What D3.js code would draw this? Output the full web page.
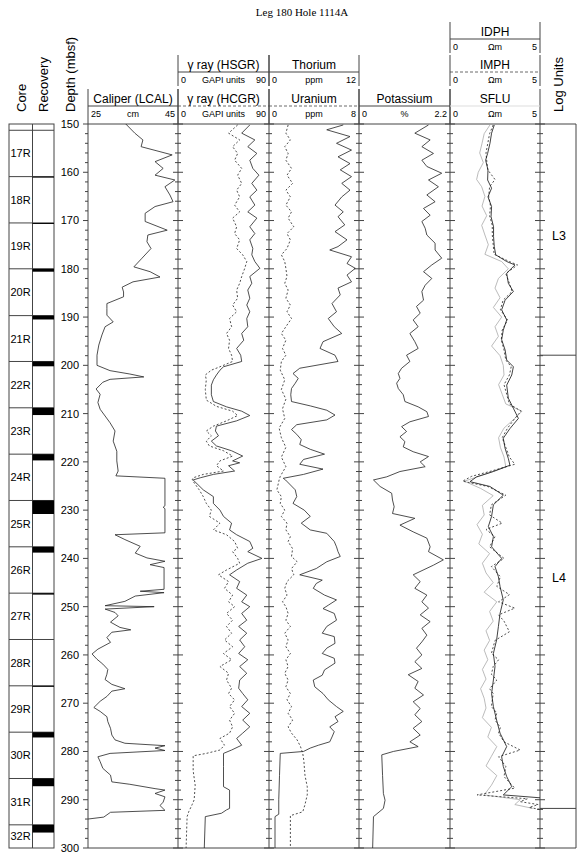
<!DOCTYPE html>
<html>
<head>
<meta charset="utf-8">
<script src="https://cdn.jsdelivr.net/npm/d3@7"></script>
<style>
  body { margin: 0; background: #fff; }
  text { font-family: "Liberation Sans", Arial, Helvetica, sans-serif; fill: #000; }
</style>
</head>
<body>
<script>

var svgWidth = 581;
var svgHeight = 857;

// ---------------- data ----------------
var title = "Leg 180 Hole 1114A";

var coreNames = ["16R", "17R", "18R", "19R", "20R", "21R", "22R", "23R", "24R",
                 "25R", "26R", "27R", "28R", "29R", "30R", "31R", "32R"];
var coreTops = [141.7, 151.3, 160.9, 170.5, 180.0, 189.7, 199.2, 208.8, 218.4,
                228.0, 237.6, 247.2, 256.8, 266.4, 276.0, 285.6, 295.2];
var recovered = [0, 0, 0.2, 0.2, 0.6, 0.8, 1.0, 1.5, 1.3,
                 2.8, 1.2, 0.3, 0, 0.15, 1.1, 1.6, 1.6];

var unitNames = ["L3", "L4"];
var unitTops = [150, 197.9];
var unitBases = [197.9, 291.8];

var depthTicks = [150, 160, 170, 180, 190, 200, 210, 220, 230, 240, 250,
                  260, 270, 280, 290, 300];

// [depth m, caliper cm]
var caliper = [[150,33.4],[151.9,35.4],[153.3,37.2],[154.7,36.8],[156.4,43.7],[157.8,39.9],
  [159.2,41.7],[160.6,39.9],[161.6,44.3],[163,42.1],[164.7,43.2],[166.1,43.9],[167.1,39.9],
  [168.5,37.7],[170.2,37.7],[172,42.6],[173,38.3],[174.4,38.1],[175.8,39],[177.8,37],
  [179.6,35.2],[180.6,38.8],[181.7,41],[182.7,35],[183.8,32.6],[184.8,32.9],[185.8,32.9],
  [187.2,29.2],[188.2,29.2],[189.6,29.2],[191,30.6],[192,28.8],[193.7,28.1],[195.8,27.4],
  [197.9,27],[200,27],[201.1,29.9],[201.8,34.3],[202.4,37.4],[202.9,29.9],[203.5,28.3],
  [204.9,26.8],[206,27.7],[207.7,27.2],[209.1,27.7],[210.5,28.8],[211.9,29.9],[213.6,31],
  [215.7,30.6],[217.8,31.4],[219.8,31.4],[221.9,31.7],[222.9,31.2],[223.4,42.1],[229.1,42.1],
  [229.4,41.7],[229.7,42.1],[234.7,42.1],[235.1,31],[236.1,33.2],[237.5,36.6],[238.9,35.5],
  [239.9,38.1],[240.6,42.1],[241.3,38.8],[241.9,41.9],[246.4,41.9],[246.8,36.6],[247.1,41.9],
  [247.8,35.5],[248.9,33.2],[249.8,28.8],[250,39.7],[250.5,28.8],[251.2,31],[251.9,31.7],
  [253.2,30],[254.3,32.1],[254.8,34.5],[255.3,30.3],[256.4,29.2],[257.4,30],[258.8,27.2],
  [259.8,25.9],[260.9,27],[261.9,28.3],[263,29.4],[264,29.2],[265.1,28.8],[266.1,30.3],
  [267,33.2],[267.5,30.3],[268.6,29.2],[269.6,27.7],[270.9,26.3],[271.7,27.7],[272.8,29.2],
  [273.8,29.4],[275.2,30],[276.6,30.3],[277.6,31],[278.3,33.2],[278.8,42.1],[279.3,39.9],
  [279.8,42.1],[280.4,29.9],[281.1,27.2],[282.1,27.7],[283.5,28.3],[284.9,30],[286.3,30.3],
  [286.8,34.3],[287.7,39.9],[288,42.1],[288.7,39.9],[289.4,42.1],[290.5,41.7],[291.2,41],
  [292.2,42.1],[292.6,30],[293.6,28.5],[294,25]];

// [depth, GAPI]
var hsgr = [[150.2,71],[151.9,63],[153.3,76],[154.7,69],[156.1,78],[157.5,71],[159.2,74],
  [160.6,80],[162.3,73],[163.7,78],[165.1,71],[166.8,76],[168.2,69],[169.5,78],[171.3,71],
  [172.7,76],[174,71],[175.8,74],[177.1,73],[178.5,76],[179.9,81],[181.6,71],[183,73],
  [184.4,69],[186.1,71],[187.5,68],[188.9,71],[190.3,68],[192,69],[193.4,63],[194.8,65],
  [196.5,58],[197.9,62],[199.2,63],[200.3,45],[201,41.5],[202,38],[203,35],[204.1,33],
  [206.1,33],[207.5,35],[208.6,48],[209.5,63],[210.4,71],[211.5,58],[212.6,38],[213.6,37],
  [214.6,40],[215.7,33],[216.7,38],[217.7,53],[218.8,64],[219.8,54],[220.2,61],[220.8,50],
  [221.9,56],[222.6,35],[223.3,22],[223.75,15],[225.8,25],[227.2,35],[228.6,35],[230,41.5],
  [231.3,45],[232.7,53],[234.1,51],[235.1,58],[236.5,71],[237.9,74],[238.6,69],[240,83],
  [241,69],[242.4,58],[243.4,51],[244.8,61],[246.2,58],[247.6,68],[249,63],[250,71],
  [251.4,63],[252.8,68],[254.1,60],[255.5,68],[256.9,61],[258.3,66],[259.7,60],[261,69],
  [262.4,61],[263.8,68],[265.2,61],[266.9,60],[268,64],[269.3,69],[270.7,63],[272.1,71],
  [273.5,64],[274.9,71],[276.2,64],[277.3,58],[278.7,63],[279.7,53],[280.4,45],[283.1,45],
  [287.3,45],[288,51],[291.8,51],[292.1,48],[292.8,43],[293.5,27],[300,26]];

var hcgr = [[150.2,59],[151.9,50],[153.3,61],[154.7,54],[156.1,59],[157.5,56],[159.2,63],
  [160.6,59],[162.3,63],[163.7,58],[165.1,61],[166.8,56],[168.2,61],[169.5,54],[171.3,58],
  [172.7,56],[174,61],[175.8,58],[177.1,64],[178.5,68],[179.9,66],[181.6,63],[183,61],
  [184.4,58],[186.1,59],[187.5,54],[188.9,58],[190.3,51],[192,53],[193.4,48],[194.8,51],
  [196.5,50],[197.9,53],[199.2,54],[200.3,41.5],[201,33],[202,27],[203,28],[205,27],
  [207.2,28],[208.5,38],[209.5,54],[210.4,59],[211.5,48],[212.6,35],[213.6,28],[214.6,33],
  [215.7,28],[216.7,31],[217.7,45],[218.8,54],[219.8,41.5],[220.8,38],[221.9,45],[222.6,25],
  [223.3,15],[223.75,14],[225.8,21],[227.2,25],[228.6,28],[230,33],[231.3,31],[232.7,41.5],
  [234.1,35],[235.1,48],[236.5,56],[237.9,59],[238.6,54],[240,59],[241,61],[242.4,48],
  [243.4,40],[244.8,50],[246.2,46],[247.6,54],[249,50],[250,56],[251.4,48],[252.8,54],
  [254.1,48],[255.5,53],[256.9,46],[258.3,54],[259.7,45],[261,53],[262.4,41.5],[263.8,50],
  [265.2,48],[266.9,53],[268,50],[269.3,56],[270.7,51],[272.1,56],[273.5,51],[274.9,54],
  [276.2,51],[277.3,41.5],[278.7,46],[279.7,41.5],[280.4,28],[280.9,15],[284,15],[287,17],
  [290,16],[291,14],[292.5,10.6],[293.5,9],[300,8]];

// [depth, ppm]
var thorium = [[150.2,9.9],[151.2,7.7],[152.6,10.8],[154,9.0],[155.4,11],[156.8,9.2],[158.2,10.8],
  [159.5,9.5],[160.9,11],[162.3,9.7],[163.7,10.8],[165.1,9.7],[166.8,8.8],[168.2,9.9],[169.2,9.2],
  [170.9,10.1],[172.3,8.8],[174,10.4],[175.4,9.2],[176.1,8.1],[177.5,11],[178.9,10.4],[179.9,11.5],
  [181.3,10.4],[182.7,11],[184,9.2],[185.4,9.5],[187.2,8.4],[188.9,9.0],[190.3,7.9],[192,8.7],
  [193.4,9.7],[195.1,7.2],[196.5,6.8],[197.9,8.8],[199.2,9.2],[200.6,4.1],[201.7,3.2],[202.7,3.9],
  [203.7,3.5],[204.8,3.0],[206.1,2.9],[207.5,3.0],[208.4,5.5],[209.3,7.7],[210.3,8.8],[211.3,7.7],
  [212.3,3.7],[213.3,3.0],[214.3,3.7],[215.4,4.3],[216.4,4.1],[217.4,5.5],[218.4,7.4],[219.5,4.6],
  [220.5,4.1],[221.5,7.2],[222.6,4.6],[223.4,1.9],[223.75,2.2],[225.8,3.5],[227.2,3.7],[228.6,3.2],
  [230,4.7],[231.3,5.5],[232.7,4.3],[234.1,5.5],[234.8,7.7],[236.5,8.7],[237.6,9.0],[238.6,9.2],
  [239.6,9.5],[240.7,7.7],[242.1,6.3],[243.4,4.1],[244.5,7.1],[245.2,6.3],[246.2,5.9],[247.6,7.4],
  [248.6,9.0],[249.7,7.9],[250.4,7.2],[251.4,8.7],[252.8,9.0],[254.1,7.7],[255.5,7.1],[256.2,8.7],
  [257.6,8.8],[258.6,7.7],[259.7,7.1],[260.7,8.7],[261.7,8.8],[263.1,7.4],[264.2,7.1],[265.2,5.9],
  [266.6,6.1],[268,7.2],[269.3,7.9],[270.7,9.0],[271.7,9.9],[272.8,8.8],[273.8,9.2],[274.9,8.1],
  [275.9,8.7],[277,8.4],[278,8.1],[278.7,6.6],[279.3,5.5],[280,4.6],[280.4,1.5],[285,1.4],
  [290,1.3],[293,1.3],[293.5,0.8],[300,0.8]];

var uranium = [[150.2,1.7],[151.9,1.5],[153.3,1.9],[154.7,1.4],[156.1,1.7],[157.5,1.5],[159.2,2.0],
  [160.6,1.6],[162.3,2.1],[163.7,1.5],[165.1,1.9],[166.8,1.5],[168.2,2.0],[169.5,1.7],[171.3,2.2],
  [172.7,1.6],[174,1.9],[175.8,1.6],[177.1,1.1],[178.5,1.4],[179.9,1.5],[181.6,1.6],[183,1.4],
  [184.4,1.7],[186.1,1.5],[187.5,1.9],[188.9,1.6],[190.3,2.0],[192,1.5],[193.4,1.1],[194.8,1.5],
  [196.5,1.2],[197.9,1.5],[199.2,1.1],[201,1.0],[203,1.4],[205,1.1],[207,1.5],[209,1.2],
  [211,1.4],[213,0.9],[215,1.1],[217,1.5],[219,1.1],[221,1.5],[223,1.0],[223.75,0.9],
  [225.8,0.7],[227.2,1.1],[228.6,1.0],[230,1.4],[231.3,1.1],[232.7,1.6],[234.1,1.5],[235.5,1.9],
  [236.5,1.7],[238,2.1],[239.6,2.0],[240.7,2.5],[242.1,2.0],[243.4,2.2],[244.8,1.6],[246.2,1.4],
  [247.6,1.6],[249,1.2],[250,1.5],[251.4,1.7],[252.8,1.5],[254.1,1.9],[255.5,1.4],[256.9,1.7],
  [258.3,1.5],[259.7,1.9],[261,1.5],[262.4,1.7],[263.8,1.4],[265.2,1.7],[266.6,1.5],[268,1.9],
  [269.3,1.6],[270.7,2.0],[272.1,1.7],[273.5,2.1],[274.9,1.7],[276.2,2.0],[277.6,2.5],[279,2.8],
  [280.4,3.0],[282,3.1],[285,3.2],[287.3,3.4],[289,3.4],[291,3.2],[292.5,3.0],[293.3,1.9],
  [300,1.9]];

// [depth, %]
var potassium = [[150.2,1.68],[151.9,1.35],[153.3,1.72],[154.7,1.52],[156.1,1.80],[157.5,1.52],
  [158.8,1.64],[160.2,2.0],[161.6,1.68],[163,1.92],[164.7,1.64],[166.1,1.84],[167.5,1.56],
  [168.9,1.72],[170.2,1.52],[171.6,1.60],[173,1.64],[174.7,1.84],[176.1,1.84],[177.8,2.0],
  [179.2,1.76],[180.6,1.56],[182,1.76],[183.4,1.60],[184.7,1.52],[186.5,1.56],[187.8,1.39],
  [189.2,1.48],[190.6,1.31],[192,1.43],[193.4,1.23],[195.1,1.35],[196.5,1.43],[197.9,1.15],
  [199.2,1.23],[200.6,1.03],[201.7,0.95],[202.7,0.99],[203.7,0.91],[204.8,0.95],[206.1,1.07],
  [207.5,1.11],[208.6,1.43],[209.6,1.64],[210.6,1.68],[211.7,1.23],[212.7,1.03],[213.7,1.15],
  [214.8,0.99],[215.8,1.11],[216.9,1.07],[217.9,1.31],[218.9,1.68],[220,1.48],[221,1.60],
  [222,0.99],[223.1,0.67],[223.75,0.35],[225.1,0.51],[226.5,0.79],[227.9,0.81],[229.3,0.85],
  [230.7,0.81],[231.7,1.35],[233.1,0.99],[234.5,1.31],[235.8,1.64],[237.6,1.72],[238.6,1.68],
  [240.3,2.04],[241.4,1.80],[243.4,1.31],[244.8,1.48],[246.2,1.35],[247.6,1.64],[249,1.52],
  [250.3,1.68],[251.7,1.48],[253.1,1.72],[254.5,1.52],[255.9,1.64],[257.3,1.52],[258.6,1.39],
  [260,1.52],[261.4,1.35],[262.8,1.52],[264.1,1.19],[265.5,1.43],[266.9,1.35],[268.3,1.56],
  [269.7,1.31],[271.1,1.48],[272.4,1.35],[273.8,1.52],[275.2,1.31],[276.6,1.48],[278,1.23],
  [279,1.43],[280,0.83],[280.7,0.55],[285,0.57],[288.7,0.59],[290.1,0.63],[291.8,0.59],
  [293.5,0.35],[300,0.33]];

// [depth, ohm m]
var idph = [[150.2,2.46],[151.9,2.31],[154,2.22],[156.1,2.09],[157.5,1.98],[159.5,2.11],
  [161.6,2.09],[163.3,2.31],[165.1,2.11],[167.1,2.31],[169.2,2.28],[171.3,2.42],[173.3,2.42],
  [175.4,2.46],[177.1,2.54],[178.5,3.15],[179.2,3.61],[180.9,3.15],[183,3.24],[184.7,3.52],
  [186.5,3.06],[188.5,2.87],[190.6,3.15],[192.7,2.96],[194.7,2.87],[196.8,3.06],[198.9,3.15],
  [200.3,3.52],[202,3.43],[204.1,3.15],[206.8,3.24],[208.9,3.52],[211,3.80],[213.1,3.33],
  [215.1,2.96],[217.2,3.06],[219.3,3.24],[220.7,3.33],[222,2.41],[223.1,1.48],[224.1,1.11],
  [225.1,2.22],[226.9,2.96],[228.9,2.41],[231.3,2.31],[233.4,2.13],[235.5,2.41],[237.6,2.31],
  [240,2.87],[241.7,2.5],[243.8,2.69],[245.8,2.78],[248.6,2.96],[251.4,2.78],[254.1,2.69],
  [256.9,2.59],[259.7,2.41],[262.4,2.5],[265.2,2.41],[268,2.31],[270.7,2.41],[273.5,2.59],
  [276.2,2.78],[279,3.15],[281.1,2.87],[283.1,2.96],[285.2,3.15],[287.3,3.43],[289,2.96],
  [289.6,5.0]];

var imph = [[150.2,2.4],[152,2.2],[154,2.1],[156,2.0],[158,2.05],[159.5,2.1],[161.5,2.5],
  [163,2.2],[165,2.15],[167,2.25],[169,2.2],[171,2.35],[173,2.35],[175,2.4],[177,2.45],
  [178.5,3.3],[179.2,3.75],[181,3.1],[183,3.3],[184.7,3.45],[186.5,2.95],[188.5,2.8],
  [190.6,3.2],[192.7,2.9],[194.7,2.85],[196.8,3.0],[198.9,3.1],[200.3,3.4],[202,3.3],[204,3.0],
  [206,3.15],[208,3.3],[209.5,3.95],[211,3.6],[213,3.2],[215,2.9],[217,3.1],[219,3.3],
  [220.5,3.6],[222,2.2],[223,1.2],[224,0.7],[225.1,2.1],[226.9,3.1],[228.9,2.3],[231,2.2],
  [232.7,2.9],[234,2.0],[235.5,2.5],[237.6,2.2],[240,3.0],[241.7,2.3],[243.8,2.8],[245.8,2.6],
  [247.5,3.3],[249,2.7],[250.3,3.6],[251.7,2.7],[253,3.0],[255.2,3.3],[257,2.5],[259.7,2.3],
  [261,2.7],[262.4,2.4],[264,2.3],[265.2,2.6],[267,2.2],[268,2.4],[270.7,2.3],[272,2.6],
  [273.5,2.5],[275,2.8],[276.2,2.7],[278,3.0],[279.7,3.9],[281.1,2.7],[283.1,3.1],[285.2,3.0],
  [287.6,3.6],[289,1.5],[289.8,4.3],[290.4,3.9],[291,4.9],[291.6,4.4],[292,5.0]];

var sflu = [[150.2,2.22],[152,1.9],[154,1.78],[156,1.65],[158,1.85],[160,1.57],[161.5,1.48],
  [163,1.76],[165,1.94],[167,1.78],[169,2.04],[171,1.76],[173,1.94],[175,2.13],[177,1.94],
  [178.5,2.87],[180,3.24],[182,2.69],[184,2.5],[186,2.78],[188,2.41],[190,2.87],[192,2.5],
  [194,2.69],[196,2.31],[198,2.78],[200,2.96],[202,3.0],[204,2.7],[206,2.9],[208,3.1],
  [209.5,4.0],[211,3.6],[213,3.0],[215,2.7],[217,2.8],[219,3.0],[221,3.1],[222.5,2.0],
  [224,0.8],[225.5,1.7],[227,2.4],[229,1.8],[231,1.9],[233,1.5],[235,1.8],[237,1.6],[239,2.2],
  [241,1.8],[243,2.0],[245,2.4],[247,1.9],[249,2.6],[251,2.2],[253,2.4],[255,2.0],[257,2.2],
  [259,1.9],[261,2.1],[263,1.8],[265,2.0],[267,1.7],[269,1.9],[271,2.0],[273,1.8],[275,2.3],
  [277,2.1],[279,2.6],[281,2.3],[283,2.0],[285,2.6],[287,2.3],[289,1.9],[290,3.9],[291,3.6],
  [291.8,4.6]];

// ---------------- layout ----------------
var plotTop = 124, plotBottom = 848;
var edges = [88, 178, 269, 359, 450, 540];   // track borders
var unitsRight = 576;
var coreLeft = 9, coreMid = 32.5, coreRight = 54;
var headerLine = [39, 72, 106];               // underline y of the three header rows

var y = d3.scaleLinear().domain([150, 300]).range([plotTop, plotBottom]);

var svg = d3.select("body")
  .append("svg")
  .attr("width", svgWidth)
  .attr("height", svgHeight);

var lineColor = "#444";

// title
svg.append("text")
  .attr("x", 302)
  .attr("y", 16)
  .attr("text-anchor", "middle")
  .style("font-family", "'Liberation Serif', 'Times New Roman', serif")
  .style("font-size", "11px")
  .text(title);

// rotated column titles
var sideTitles = [["Core", 21], ["Recovery", 43], ["Depth (mbsf)", 70], ["Log Units", 558]];
sideTitles.forEach(function (t) {
  svg.append("text")
    .attr("transform", "translate(" + (t[1] + 4.5) + ",112) rotate(-90)")
    .style("font-size", "13px")
    .text(t[0]);
});

// ---------------- core / recovery column ----------------
var coreG = svg.append("g");

coreG.append("rect")
  .attr("x", coreLeft).attr("y", plotTop)
  .attr("width", coreRight - coreLeft).attr("height", plotBottom - plotTop)
  .attr("fill", "none").attr("stroke", lineColor);

coreG.append("line")
  .attr("x1", coreMid).attr("x2", coreMid)
  .attr("y1", plotTop).attr("y2", plotBottom)
  .attr("stroke", lineColor);

coreNames.forEach(function (name, i) {
  var top = coreTops[i];
  var base = i < coreTops.length - 1 ? coreTops[i + 1] : 305;
  var vTop = Math.max(top, 150), vBase = Math.min(base, 300);

  if (top >= 150) {
    coreG.append("line")
      .attr("x1", coreLeft).attr("x2", coreRight)
      .attr("y1", y(top)).attr("y2", y(top))
      .attr("stroke", lineColor);
  }
  // recovered interval (black)
  if (recovered[i] > 0 && top >= 150) {
    coreG.append("rect")
      .attr("x", coreMid).attr("y", y(top))
      .attr("width", coreRight - coreMid)
      .attr("height", Math.max(1, y(Math.min(top + recovered[i], 300)) - y(top)))
      .attr("fill", "#000");
  }
  if (vBase - vTop > 3) {
    coreG.append("text")
      .attr("x", coreLeft + 1.5)
      .attr("y", (y(vTop) + y(vBase)) / 2)
      .attr("dy", "0.36em")
      .style("font-size", "11px")
      .text(name);
  }
});

// ---------------- depth labels and ticks ----------------
svg.selectAll(".depthLabel")
  .data(depthTicks)
  .enter()
  .append("text")
  .attr("x", 79)
  .attr("y", d => y(d))
  .attr("dy", "0.36em")
  .attr("text-anchor", "end")
  .style("font-size", "11px")
  .text(d => d);

var tickDepths = d3.range(150, 301, 2);
edges.forEach(function (ex, k) {
  svg.selectAll(".tick" + k)
    .data(tickDepths)
    .enter()
    .append("line")
    .attr("x1", d => ex - (d % 10 === 0 ? 5 : 3))
    .attr("x2", d => k === 0 ? ex : ex + (d % 10 === 0 ? 5 : 3))
    .attr("y1", d => y(d))
    .attr("y2", d => y(d))
    .attr("stroke", lineColor);
});

// frame of tracks
edges.concat([unitsRight]).forEach(function (ex) {
  svg.append("line")
    .attr("x1", ex).attr("x2", ex)
    .attr("y1", plotTop).attr("y2", plotBottom)
    .attr("stroke", lineColor);
});
[plotTop, plotBottom].forEach(function (yy) {
  svg.append("line")
    .attr("x1", edges[0]).attr("x2", unitsRight)
    .attr("y1", yy).attr("y2", yy)
    .attr("stroke", lineColor);
});

// log units
unitNames.forEach(function (name, i) {
  svg.append("line")
    .attr("x1", edges[5]).attr("x2", unitsRight)
    .attr("y1", y(unitBases[i])).attr("y2", y(unitBases[i]))
    .attr("stroke", lineColor);
  svg.append("text")
    .attr("x", (edges[5] + unitsRight) / 2 + 1)
    .attr("y", (y(unitTops[i]) + y(unitBases[i])) / 2 - 4)
    .attr("dy", "0.36em")
    .attr("text-anchor", "middle")
    .style("font-size", "12.5px")
    .text(name);
});

// ---------------- track headers ----------------
var headers = [
  { t: 0, row: 2, label: "Caliper (LCAL)", lo: "25", unit: "cm", hi: "45", style: "solid" },
  { t: 1, row: 1, label: "\u03b3 ray (HSGR)", lo: "0", unit: "GAPI units", hi: "90", style: "solid" },
  { t: 1, row: 2, label: "\u03b3 ray (HCGR)", lo: "0", unit: "GAPI units", hi: "90", style: "dash" },
  { t: 2, row: 1, label: "Thorium", lo: "0", unit: "ppm", hi: "12", style: "solid" },
  { t: 2, row: 2, label: "Uranium", lo: "0", unit: "ppm", hi: "8", style: "dash" },
  { t: 3, row: 2, label: "Potassium", lo: "0", unit: "%", hi: "2.2", style: "solid" },
  { t: 4, row: 0, label: "IDPH", lo: "0", unit: "\u03a9m", hi: "5", style: "solid" },
  { t: 4, row: 1, label: "IMPH", lo: "0", unit: "\u03a9m", hi: "5", style: "dash" },
  { t: 4, row: 2, label: "SFLU", lo: "0", unit: "\u03a9m", hi: "5", style: "gray" }
];

headers.forEach(function (h) {
  var x0 = edges[h.t], x1 = edges[h.t + 1];
  var L = headerLine[h.row];
  var g = svg.append("g");
  var bottom = h.row === 2 ? plotTop : L + 14;

  [x0, x1].forEach(function (ex) {
    g.append("line")
      .attr("x1", ex).attr("x2", ex)
      .attr("y1", L - 17).attr("y2", bottom)
      .attr("stroke", lineColor);
  });

  g.append("line")
    .attr("x1", x0).attr("x2", x1)
    .attr("y1", L).attr("y2", L)
    .attr("stroke", h.style === "gray" ? "#ddd" : lineColor)
    .attr("stroke-width", h.style === "dash" ? 0.8 : 1)
    .attr("stroke-dasharray", h.style === "dash" ? "3,2" : null);

  g.append("text")
    .attr("x", (x0 + x1) / 2).attr("y", L - 3)
    .attr("text-anchor", "middle")
    .style("font-size", "12px")
    .text(h.label);

  g.append("text").attr("x", x0 + 3).attr("y", L + 11)
    .style("font-size", "9px").text(h.lo);
  g.append("text").attr("x", (x0 + x1) / 2).attr("y", L + 11)
    .attr("text-anchor", "middle").style("font-size", "9px").text(h.unit);
  g.append("text").attr("x", x1 - 3).attr("y", L + 11)
    .attr("text-anchor", "end").style("font-size", "9px").text(h.hi);
});

// ---------------- curves ----------------
var curves = [
  { data: caliper,   t: 0, domain: [25, 45], color: "#222", dash: null },
  { data: hcgr,      t: 1, domain: [0, 90],  color: "#222", dash: "2,2" },
  { data: hsgr,      t: 1, domain: [0, 90],  color: "#222", dash: null },
  { data: uranium,   t: 2, domain: [0, 8],   color: "#222", dash: "2,2" },
  { data: thorium,   t: 2, domain: [0, 12],  color: "#222", dash: null },
  { data: potassium, t: 3, domain: [0, 2.2], color: "#222", dash: null },
  { data: sflu,      t: 4, domain: [0, 5],   color: "#aaa", dash: null },
  { data: imph,      t: 4, domain: [0, 5],   color: "#222", dash: "2,2" },
  { data: idph,      t: 4, domain: [0, 5],   color: "#111", dash: null }
];

curves.forEach(function (c) {
  var x = d3.scaleLinear().domain(c.domain).range([edges[c.t], edges[c.t + 1]]);
  var line = d3.line()
    .x(d => x(d[1]))
    .y(d => y(d[0]));
  svg.append("path")
    .datum(c.data)
    .attr("d", line)
    .attr("fill", "none")
    .attr("stroke", c.color)
    .attr("stroke-width", 0.8)
    .attr("stroke-dasharray", c.dash);
});

</script>
</body>
</html>
